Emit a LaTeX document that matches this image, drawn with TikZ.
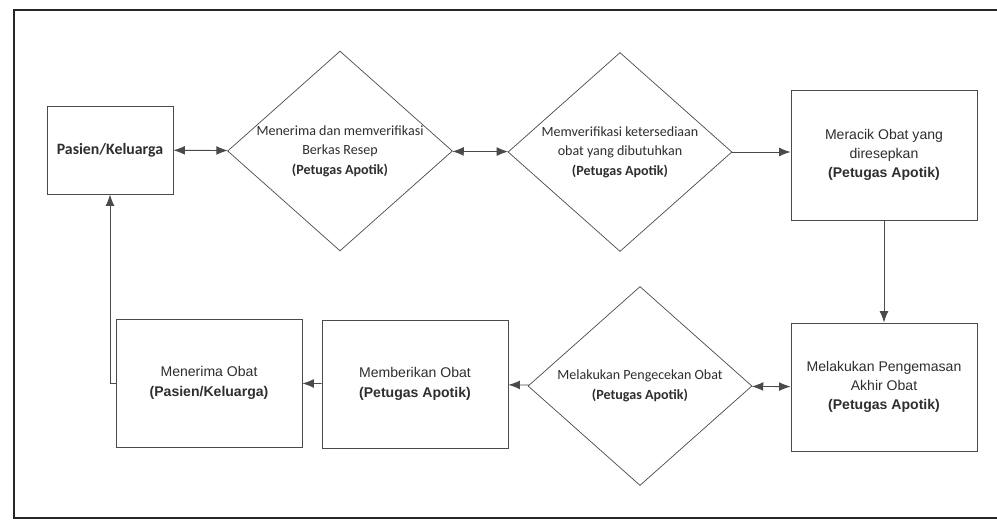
\documentclass[tikz,border=0pt]{standalone}
\usepackage{fontspec}
\setmainfont{Carlito}
\newfontfamily\arialfont{Liberation Sans}
\usetikzlibrary{
arrows.meta,
positioning,
shapes.geometric
}
\definecolor{inkgray}{HTML}{2E2E2E}
\definecolor{linegray}{HTML}{4A4A4A}

\begin{document}
\begin{tikzpicture}[
x=0.02cm, y=-0.02cm,
font=\fontsize{8}{11.2}\selectfont,
stepbox/.style={
rectangle,
draw=linegray,
line width=0.5pt,
minimum width=3.72cm,
minimum height=2.56cm,
align=center,
text=inkgray,
font=\arialfont\fontsize{8}{11}\selectfont
},
check/.style={
diamond,
aspect=1.125,
draw=linegray,
line width=0.4pt,
minimum width=4.48cm,
minimum height=3.98cm,
inner sep=0pt,
align=center,
text=inkgray
},
arrow/.style={-{Latex[length=6.5pt,width=5pt]},linegray,line width=0.5pt},
dblarrow/.style={{Latex[length=6.5pt,width=5pt]}-{Latex[length=6.5pt,width=5pt]},linegray,line width=0.5pt},
frame/.style={draw=black!85,line width=1.1pt}
]
\useasboundingbox (0,0) rectangle (997,521);
\draw[frame] (997,10) -- (14,10) -- (14,518) -- (997,518);

% top row
\node[stepbox, minimum width=2.52cm, minimum height=1.76cm, font=\fontsize{9}{11}\selectfont\bfseries] (pasien) at (110,150) {Pasien/Keluarga};
\node[check] (terima) at (340,151) {Menerima dan memverifikasi\\Berkas Resep\\\textbf{(Petugas Apotik)}};
\node[check] (stok) at (620,152) {Memverifikasi ketersediaan\\obat yang dibutuhkan\\\textbf{(Petugas Apotik)}};
\node[stepbox, minimum height=2.6cm] (racik) at (884,155) {Meracik Obat yang\\diresepkan\\\textbf{(Petugas Apotik)}};

% bottom row
\node[stepbox] (kemas) at (884,387) {Melakukan Pengemasan\\Akhir Obat\\\textbf{(Petugas Apotik)}};
\node[check] (cek) at (640,386) {Melakukan Pengecekan Obat\\\textbf{(Petugas Apotik)}};
\node[stepbox] (beri) at (415,384) {Memberikan Obat\\\textbf{(Petugas Apotik)}};
\node[stepbox] (obat) at (209,383) {Menerima Obat\\\textbf{(Pasien/Keluarga)}};

\draw[dblarrow] (pasien) -- (terima);
\draw[dblarrow] (terima) -- (stok);
\draw[arrow] (stok.east) -- (stok.east -| racik.west);
\draw[arrow] (racik) -- (kemas);
\draw[dblarrow] (cek) -- (kemas);
\draw[arrow] (cek) -- (beri);
\draw[arrow] (beri) -- (obat);
\draw[arrow] (obat.west) -| (pasien.south);

\end{tikzpicture}
\end{document}
